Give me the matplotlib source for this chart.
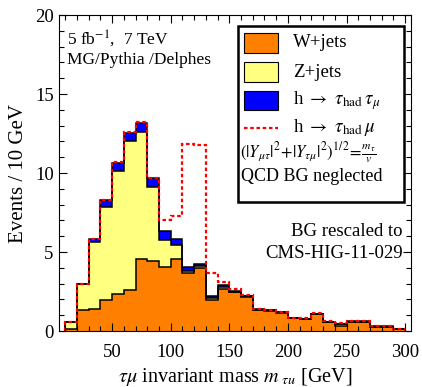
import numpy as np
import matplotlib
matplotlib.use("Agg")
import matplotlib.pyplot as plt
from matplotlib.patches import Rectangle
from matplotlib.lines import Line2D
from matplotlib.ticker import MultipleLocator

plt.rcParams['font.family'] = ['Liberation Serif', 'DejaVu Serif']
plt.rcParams['mathtext.fontset'] = 'stix'

# ---- data ----
bin_edges = np.arange(10, 301, 10)
w_jets = [0.10, 1.33, 1.39, 1.96, 2.36, 2.57, 4.56, 4.43, 4.07, 4.57, 3.69, 4.01, 1.96, 2.65,
          2.45, 2.15, 1.33, 1.29, 1.16, 0.80, 0.76, 1.08, 0.55, 0.32, 0.59, 0.59, 0.27, 0.27, 0.11]
z_jets = [0.45, 1.62, 4.22, 5.91, 7.79, 9.46, 8.05, 4.70, 1.71, 0.87, 0.13, 0.10, 0.15, 0.15,
          0.05, 0.04, 0.02, 0.02, 0.02, 0.01, 0.01, 0.01, 0.01, 0.13, 0.01, 0.01, 0.01, 0.01, 0.01]
h_tautau = [0.03, 0.03, 0.21, 0.42, 0.50, 0.52, 0.57, 0.53, 0.55, 0.36, 0.25, 0.13, 0.08, 0.08,
            0.03, 0.02, 0.02, 0.01, 0.01, 0.01, 0.01, 0.01, 0.01, 0.01, 0.01, 0.01, 0.01, 0.01, 0.01]
h_taumu_total = [0.60, 3.00, 5.85, 8.32, 10.70, 12.60, 13.23, 9.70, 7.00, 7.30, 11.83, 11.77, 3.68, 3.12,
                 2.64, 2.30, 1.40, 1.33, 1.20, 0.84, 0.80, 1.12, 0.62, 0.50, 0.62, 0.62, 0.32, 0.32, 0.15]

legend_labels = ["W+jets", "Z+jets", r"h $\rightarrow$ $\tau_{\rm had}\,\tau_\mu$", r"h $\rightarrow$ $\tau_{\rm had}\,\mu$"]
c_w, c_z, c_h = '#FF8000', '#FFFF80', '#0000FF'

w = np.array(w_jets)
wz = w + np.array(z_jets)
tot = wz + np.array(h_tautau)

fig = plt.figure(figsize=(4.22, 3.87), dpi=100)
ax = fig.add_axes([0.1405, 0.1447, 0.8335, 0.8165])

ax.stairs(w, bin_edges, baseline=0, fill=True, color=c_w, lw=0)
ax.stairs(wz, bin_edges, baseline=w, fill=True, color=c_z, lw=0)
ax.stairs(tot, bin_edges, baseline=wz, fill=True, color=c_h, lw=0)
for layer in (w, wz, tot):
    ax.stairs(layer, bin_edges, baseline=0, color='black', lw=1.1)
ax.stairs(h_taumu_total, bin_edges, baseline=0, color='red', lw=1.6, linestyle=(0, (1.6, 1.2)))

ax.set_xlim(5, 305)
ax.set_ylim(0, 20)
ax.xaxis.set_major_locator(MultipleLocator(50))
ax.xaxis.set_minor_locator(MultipleLocator(10))
ax.yaxis.set_major_locator(MultipleLocator(5))
ax.yaxis.set_minor_locator(MultipleLocator(1))
ax.tick_params(which='both', direction='in', top=True, right=True, labelsize=13.5)
ax.tick_params(which='major', length=6, width=0.8)
ax.tick_params(which='minor', length=3.5, width=0.8)
ax.tick_params(axis='x', which='major', pad=9)
ax.tick_params(axis='y', which='major', pad=4)
ax.set_xticks([50, 100, 150, 200, 250, 300])
ax.set_yticks([0, 5, 10, 15, 20])

ax.set_xlabel(r"$\tau\mu$ invariant mass $m_{\ \tau u}$ [GeV]", fontsize=14.5, labelpad=4)
ax.set_ylabel("Events / 10 GeV", fontsize=15, labelpad=5)

ax.text(0.021, 0.927, r"5 fb$^{-1}$,  7 TeV", transform=ax.transAxes, fontsize=12.5, va='center', ha='left')
ax.text(0.021, 0.858, "MG/Pythia /Delphes", transform=ax.transAxes, fontsize=12.5, va='center', ha='left')
ax.text(0.977, 0.314, "BG rescaled to", transform=ax.transAxes, fontsize=13.5, va='center', ha='right')
ax.text(0.977, 0.244, "CMS-HIG-11-029", transform=ax.transAxes, fontsize=13.5, va='center', ha='right')

# legend box
T = ax.transAxes
ax.add_patch(Rectangle((0.507, 0.408), 0.474, 0.557, transform=T, facecolor='white',
                       edgecolor='black', lw=1.8, zorder=5))
patch_x0, patch_w = 0.526, 0.095
label_x = 0.664
for ytop, ybot, col, lab in [(0.942, 0.881, c_w, legend_labels[0]),
                             (0.850, 0.789, c_z, legend_labels[1]),
                             (0.760, 0.699, c_h, legend_labels[2])]:
    ax.add_patch(Rectangle((patch_x0, ybot), patch_w, ytop - ybot, transform=T,
                           facecolor=col, edgecolor='black', lw=0.8, zorder=6))
    ax.text(label_x, (ytop + ybot) / 2, lab, transform=T, fontsize=13.5, va='center', ha='left', zorder=7)
ax.add_line(Line2D([patch_x0, patch_x0 + patch_w], [0.643, 0.643], transform=T, color='red',
                   lw=1.6, linestyle=(0, (1.6, 1.2)), zorder=6))
ax.text(label_x, 0.643, legend_labels[3], transform=T, fontsize=13.5, va='center', ha='left', zorder=7)
ax.text(0.515, 0.563, r"$(|Y_{\mu\tau}|^2\!+\!|Y_{\tau\mu}|^2)^{1/\,2}\!=\!\frac{m_\tau}{v}$",
        transform=T, fontsize=12, va='center', ha='left', zorder=7)
ax.text(0.517, 0.488, "QCD BG neglected", transform=T, fontsize=13, va='center', ha='left', zorder=7)

fig.savefig("out.png", dpi=100)
